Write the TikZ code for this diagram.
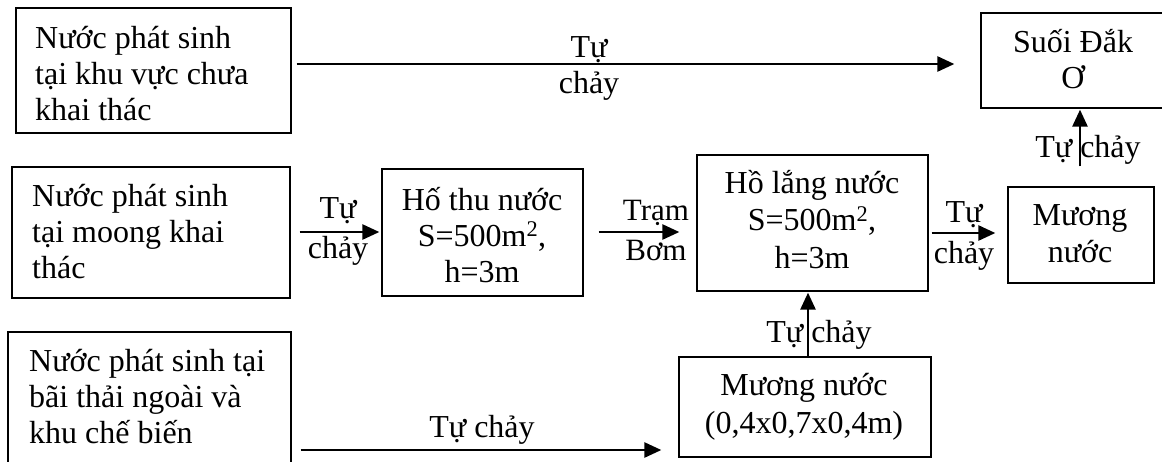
\documentclass[tikz,border=0pt]{standalone}
\usepackage{fontspec}
\setmainfont{Liberation Serif}
\usetikzlibrary{arrows.meta}
\begin{document}
\begin{tikzpicture}[x=1pt,y=-1pt,
  box/.style={draw, line width=1.3pt, inner sep=0pt},
  txt/.style={inner sep=0pt, font=\fontsize{32}{36}\selectfont},
  flow/.style={line width=2.6pt, -{Triangle[length=17pt,width=15pt]}},
]
\clip (0,0) rectangle (1162,461);

% boxes
\node[box, minimum width=275pt, minimum height=125pt] (a) at (153.5,70.5) {};
\node[box, minimum width=278pt, minimum height=131pt] (b) at (151,232.5) {};
\node[box, minimum width=283pt, minimum height=160pt] (c) at (149.5,412) {};
\node[box, minimum width=201pt, minimum height=127pt] (d) at (482.5,232.5) {};
\node[box, minimum width=231pt, minimum height=136pt] (e) at (812.5,223) {};
\node[box, minimum width=146pt, minimum height=96pt] (f) at (1081,235) {};
\node[box, minimum width=200pt, minimum height=95pt] (g) at (1081,60.5) {};
\node[box, minimum width=252pt, minimum height=100pt] (h) at (805,407) {};

% box texts (anchored on the baseline of the last line)
\node[txt, anchor=base west, align=left] (at) at (35,120) {Nước phát sinh\\tại khu vực chưa\\khai thác};
\node[txt, anchor=base west, align=left] (bt) at (32,278) {Nước phát sinh\\tại moong khai\\thác};
\node[txt, anchor=base west, align=left] (ct) at (29,443) {Nước phát sinh tại\\bãi thải ngoài và\\khu chế biến};
\node[txt, anchor=base, align=center] (dt) at (482,282) {Hố thu nước\\S=500m\textsuperscript{2},\\h=3m};
\node[txt, anchor=base, align=center, font=\fontsize{32}{37.5}\selectfont] (et) at (812,268) {Hồ lắng nước\\S=500m\textsuperscript{2},\\h=3m};
\node[txt, anchor=base, align=center, font=\fontsize{32}{37}\selectfont] (ft) at (1080,262) {Mương\\nước};
\node[txt, anchor=base, align=center] (gt) at (1073,88) {Suối Đắk\\Ơ};
\node[txt, anchor=base, align=center, font=\fontsize{32}{38}\selectfont] (ht) at (804,433) {Mương nước\\(0,4x0,7x0,4m)};

% connector heights
\coordinate (y1) at (0,64);
\coordinate (y2) at (0,232);
\coordinate (y4) at (0,233);
\coordinate (y6) at (0,450);
\coordinate (x5) at (1080,0);
\coordinate (x7) at (808,0);

% connectors
\draw[flow, shorten <=5pt, shorten >=26pt] (a.east |- y1) -- (g.west |- y1);
\draw[flow, shorten <=9pt, shorten >=2pt] (b.east |- y2) -- (d.west |- y2);
\draw[flow, shorten <=15pt, shorten >=17pt] (d.east |- y2) -- (e.west |- y2);
\draw[flow, shorten <=3pt, shorten >=12pt] (e.east |- y4) -- (f.west |- y4);
\draw[flow, shorten <=20pt, shorten >=1pt] (f.north -| x5) -- (g.south -| x5);
\draw[flow, shorten <=9pt, shorten >=17pt] (c.east |- y6) -- (h.west |- y6);
\draw[flow, shorten >=1pt] (h.north -| x7) -- (e.south -| x7);

% connector labels
\node[txt, anchor=base, align=center, font=\fontsize{32}{36}\selectfont] (l1) at (589,93) {Tự\\chảy};
\node[txt, anchor=base, align=center, font=\fontsize{32}{40}\selectfont] (l2) at (338,258) {Tự\\chảy};
\node[txt, anchor=base, align=center, font=\fontsize{31}{40}\selectfont] (l3) at (656,260) {Trạm\\Bơm};
\node[txt, anchor=base, align=center, font=\fontsize{32}{41}\selectfont] (l4) at (964,263) {Tự\\chảy};
\node[txt, anchor=base] (l5) at (1088,157) {Tự chảy};
\node[txt, anchor=base] (l6) at (482,437) {Tự chảy};
\node[txt, anchor=base] (l7) at (819,342) {Tự chảy};
\end{tikzpicture}
\end{document}
